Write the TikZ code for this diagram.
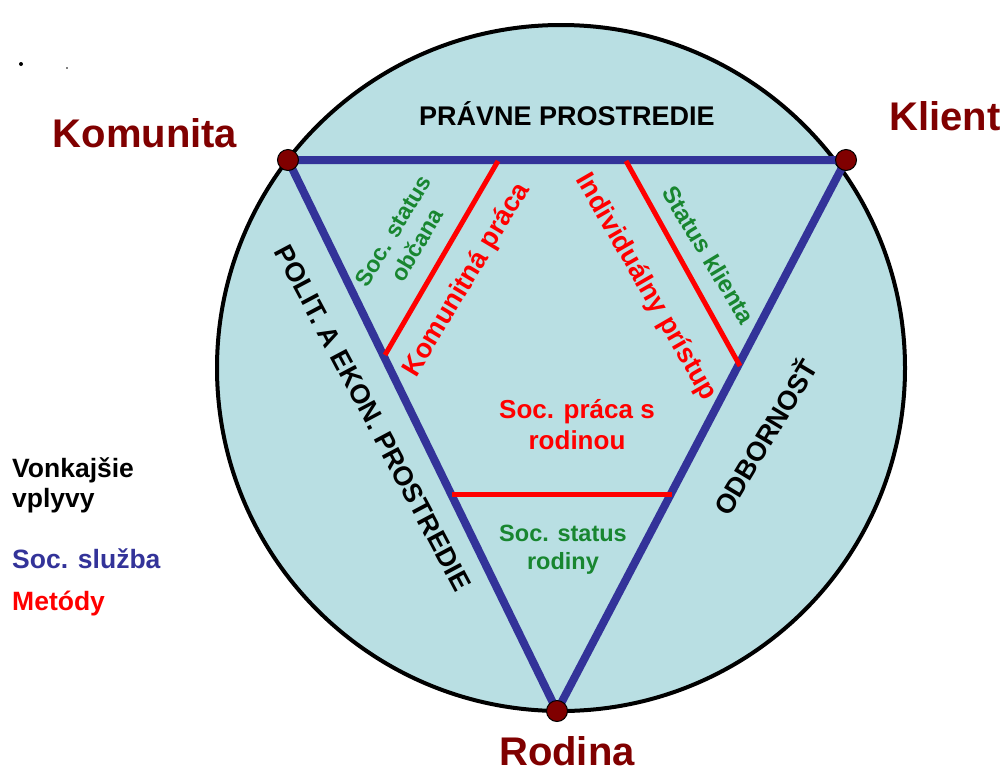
\documentclass[tikz,border=0pt]{standalone}
\usepackage{fontspec}
\setmainfont{Liberation Sans}
\begin{document}
\definecolor{fillblue}{RGB}{185,223,227}
\definecolor{servblue}{RGB}{51,51,153}
\definecolor{methred}{RGB}{255,0,0}
\definecolor{statgreen}{RGB}{24,134,48}
\definecolor{darkred}{RGB}{128,0,0}
\tikzset{
  fs/.style={font=\fontsize{#1}{#1}\selectfont\bfseries},
  fsl/.style 2 args={font=\fontsize{#1}{#2}\selectfont\bfseries},
  vertexdot/.style={circle,fill=darkred,draw=black,line width=1pt,minimum size=21pt,inner sep=0pt},
  bigname/.style={fs=40,text=darkred,anchor=base,inner sep=0pt},
  service/.style={draw=servblue,line width=8pt,line cap=round,line join=round},
  method/.style={draw=methred,line width=5pt},
  redtext/.style={fs=27,text=methred,inner sep=0pt},
  greentext/.style={text=statgreen,inner sep=0pt,align=center},
  blacktext/.style={fs=27,text=black,inner sep=0pt},
  legend/.style={fs=26.5,anchor=base west,inner sep=0pt},
}
\begin{tikzpicture}[x=1pt,y=-1pt]
\useasboundingbox (0,0) rectangle (1006,769);
% outer ellipse
\draw[fill=fillblue,line width=4pt] (561,368) ellipse [x radius=344,y radius=343];
% small marks in the corner
\fill (21,64) circle (2);
\fill (67,68) circle (0.8);
% triangle corners
\coordinate (kom) at (288,160);
\coordinate (kli) at (846,160);
\coordinate (rod) at (557,711);
% social service triangle
\draw[service] (kom) -- (kli) -- (rod) -- cycle;
% method lines
\coordinate (m1a) at (498,161);
\coordinate (m1b) at (385,355);
\coordinate (m2a) at (626,161);
\coordinate (m2b) at (740,366);
\coordinate (m3a) at (452,494);
\coordinate (m3b) at (672,494);
\draw[method] (m1a) -- (m1b);
\draw[method] (m2a) -- (m2b);
\draw[method] (m3a) -- (m3b);
% vertex dots
\node[vertexdot] (komdot) at (kom) {};
\node[vertexdot] (klidot) at (kli) {};
\node[vertexdot] (roddot) at (rod) {};
% vertex names
\node[bigname] (komname) at (145,147) {Komunita};
\node[bigname] (kliname) at (945,130) {Klient};
\node[bigname] (rodname) at (567,765) {Rodina};
% outer influences
\node[fs=27,anchor=base,inner sep=0pt] (pravne) at (567,125) {PRÁVNE PROSTREDIE};
\node[blacktext,rotate=-62] (polit) at (373,418) {POLIT. A EKON. PROSTREDIE};
\node[blacktext,rotate=59] (odb) at (764,436) {ODBORNOSŤ};
% methods
\node[redtext,rotate=59] (komprac) at (467,280) {Komunitná práca};
\node[redtext,rotate=-60] (indiv) at (646,287) {Individuálny prístup};
\node[fsl={26}{31},text=methred,align=center,inner sep=0pt] (rodprac) at (577,425) {Soc. práca s\\rodinou};
% statuses
\node[greentext,fsl={23}{28},rotate=59] (obcan) at (405,238) {Soc. status\\občana};
\node[greentext,fs=24,rotate=-59] (klstat) at (709,255) {Status klienta};
\node[greentext,fsl={23.5}{28}] (rodstat) at (563,550) {Soc. status\\rodiny};
% legend
\node[legend] (leg1) at (12,477) {Vonkajšie};
\node[legend] (leg2) at (12,507) {vplyvy};
\node[legend,text=servblue] (leg3) at (12,568) {Soc. služba};
\node[legend,text=methred] (leg4) at (12,610) {Metódy};
\end{tikzpicture}
\end{document}
